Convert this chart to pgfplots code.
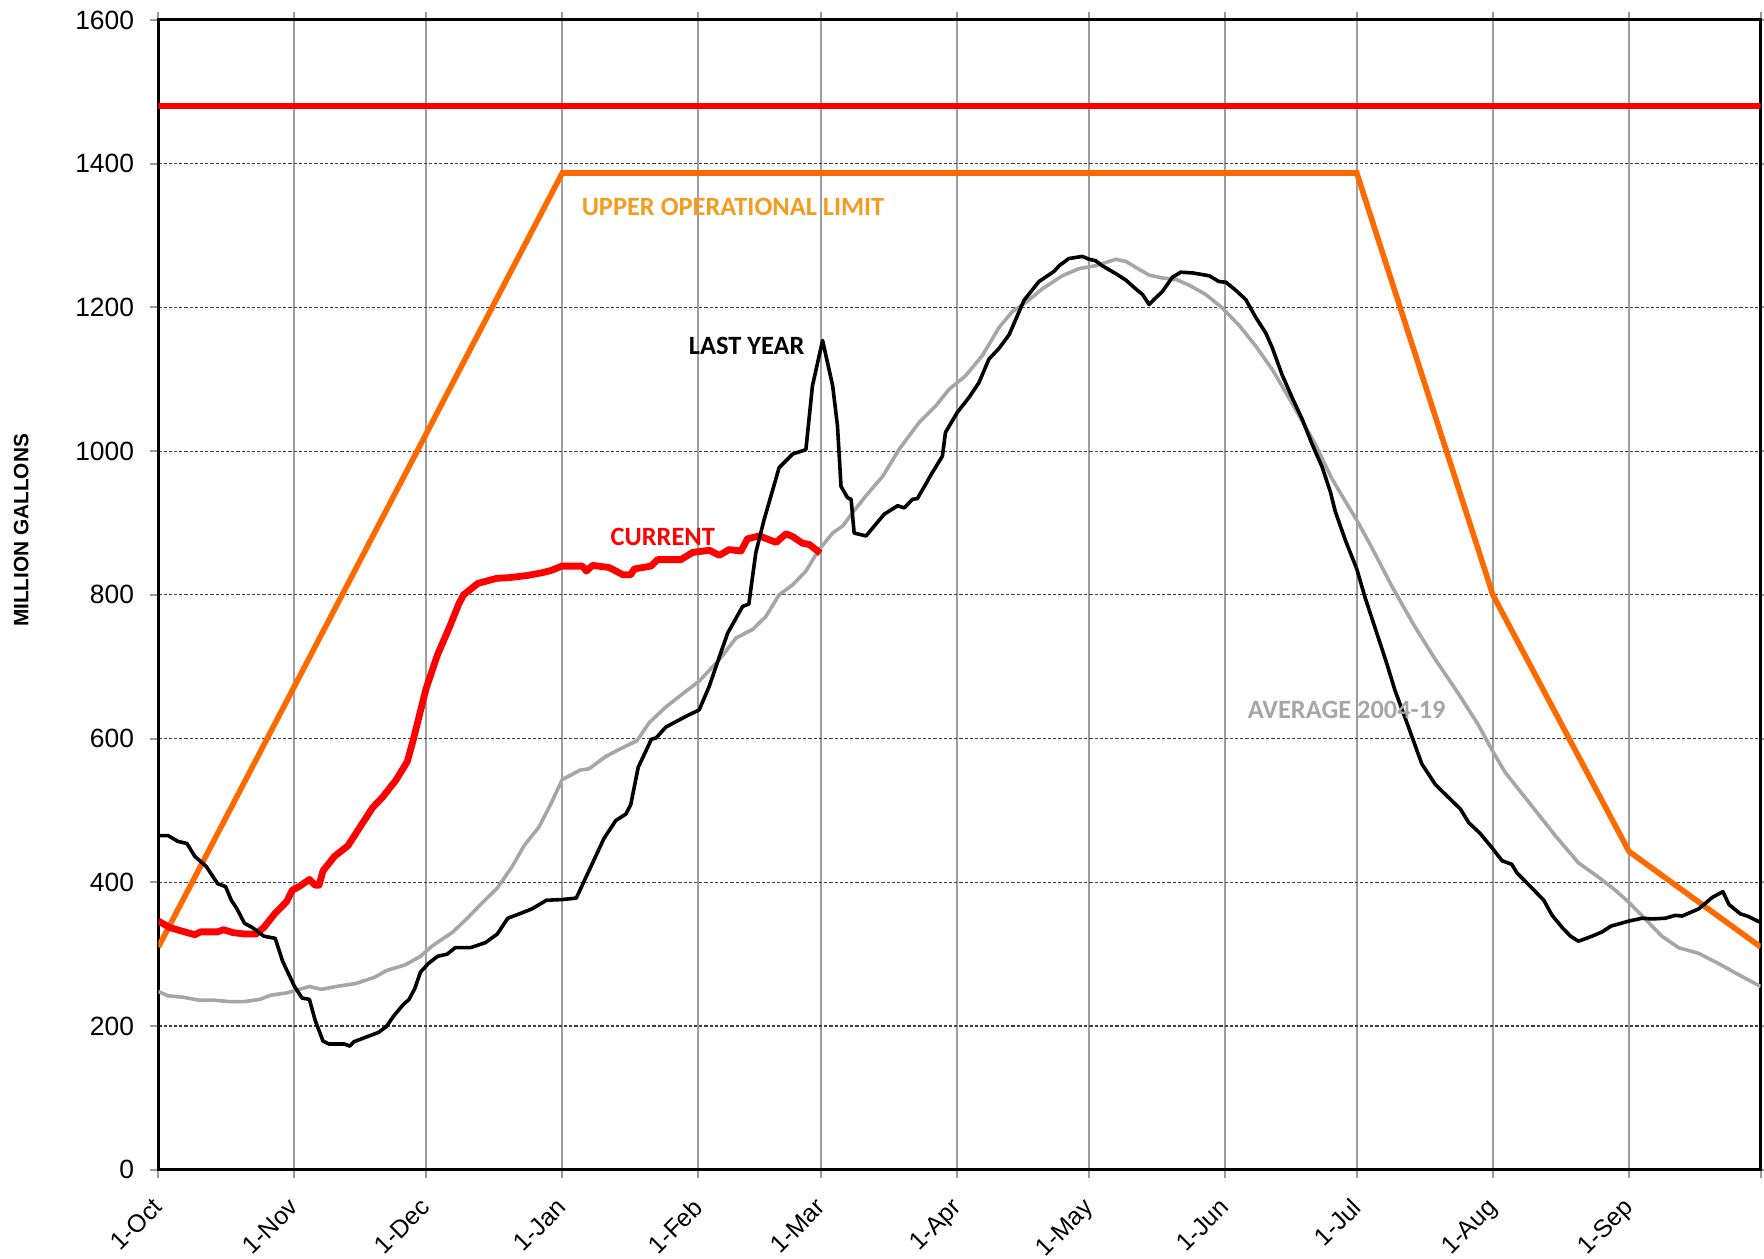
\documentclass[border=0pt]{standalone}
\usepackage{fontspec}
\setmainfont{Liberation Sans}
\newfontfamily\carlito{Carlito}
\usepackage{pgfplots}
\pgfplotsset{compat=1.18}
\definecolor{limred}{HTML}{FF0000}
\definecolor{oporange}{HTML}{FF6A00}
\definecolor{optext}{HTML}{F39C1F}
\definecolor{avggray}{HTML}{A6A6A6}

\begin{document}
\begin{tikzpicture}
\begin{axis}[
 width=400.5pt, height=287.4pt, scale only axis,
 clip mode=individual,
 xmin=0, xmax=365, ymin=0, ymax=1600,
 xtick={0,31,61,92,123,151,182,212,243,273,304,335,365},
 xticklabels={1-Oct,1-Nov,1-Dec,1-Jan,1-Feb,1-Mar,1-Apr,1-May,1-Jun,1-Jul,1-Aug,1-Sep,{}},
 ytick={0,200,...,1600},
 tick align=outside, major tick length=2pt,
 tick style={color=black!40, line width=0.5pt},
 xmajorgrids, ymajorgrids,
 x grid style={color=black!38, line width=0.5pt},
 y grid style={color=black!75, line width=0.3pt, dash pattern=on 0.8pt off 0.5pt},
 axis line style={line width=0.75pt, black},
 tick label style={font=\fontsize{6.6}{8}\selectfont},
 /pgf/number format/assume math mode=true,
 /pgf/number format/set thousands separator={},
 xticklabel style={font=\fontsize{6.2}{7.5}\selectfont, xshift=-1.7pt, yshift=-4.5pt, rotate=45, anchor=north east, inner sep=0pt},
 yticklabel style={inner sep=0pt, xshift=-3.9pt},
]
% max limit
\addplot[limred, line width=1.4pt] coordinates {(0,1480) (365,1480)};
% upper operational limit
\addplot[oporange, line width=1.4pt] coordinates {(0,310) (92,1387) (273,1387) (304,800) (335,443) (365,310)};
% average 2004-19
\addplot[avggray, line width=0.9pt] coordinates {
(0,248) (2.2,242) (5.7,240) (9.2,236) (12.6,236) (16.1,234) (19.6,234) (23.1,237) (25.7,243) (29.2,246)
(32.7,252) (34.4,255) (37.1,251) (40.5,255) (44.9,259) (49.3,268) (51.9,277) (56.2,285) (59.7,297) (62.3,311)
(67.1,331) (70.2,349) (73.7,371) (77.2,392) (80.6,422) (83.3,451) (86.7,477) (89.4,509) (92,543) (93.9,549)
(96,556) (98.1,558) (101.9,575) (105,585) (109,597) (111.8,622) (115.6,644) (117.9,655) (120,665) (123.2,680)
(127.8,710) (131.6,740) (135.4,752) (138.4,770) (141.4,800) (144.5,814) (147.5,833) (150.5,863) (153.6,886) (155.9,896)
(158.1,914) (161.2,938) (165,965) (168.8,1003) (173.3,1040) (177.1,1063) (180.1,1086) (183.9,1105) (187.7,1133) (191.5,1172)
(194.5,1194) (197.6,1207) (201.4,1226) (205.9,1244) (209.7,1254) (213.5,1258) (218.1,1267) (220.4,1264) (223.4,1253) (225.7,1245)
(228.7,1241) (231.8,1239) (234.8,1231) (238.6,1218) (242.4,1199) (246.2,1175) (250,1146) (253.7,1114) (256.8,1082) (259.8,1050)
(263.5,1010) (267.3,962) (270.4,930) (273,904) (276.4,866) (280.9,813) (286.2,756) (290.8,711) (296.1,663) (300.6,620)
(304,582) (306.8,553) (312.9,506) (318.2,465) (323.5,427) (328.1,407) (331.9,389) (335,372) (338.7,349) (342.5,325)
(346.3,309) (350.9,301) (355.4,287) (359.2,274) (365,255)};
% current
\addplot[limred, line width=1.7pt, line join=round] coordinates {
(0,346) (2.6,337) (4.8,333) (8.3,327) (9.6,331) (13.5,331) (14.8,334) (17,330) (19.6,328) (22.2,328)
(24,337) (26.6,357) (29.2,373) (30.5,389) (32.3,395) (34.4,404) (35.7,396) (36.6,396) (37.5,416) (40.1,436)
(43.2,451) (45.3,471) (48.8,504) (51,518) (54.1,542) (56.7,568) (58,597) (61,670) (63.6,717) (66.3,755)
(68.4,787) (69.5,800) (72.8,816) (77.1,823) (80,824) (84.1,827) (87.6,831) (89.5,834) (91.9,840) (96.6,840)
(97.5,833) (98.9,841) (102.7,838) (105.8,828) (107.6,828) (108.4,836) (112.2,840) (113.7,849) (119,849) (121.7,859)
(125.5,862) (127.8,855) (130,863) (132.7,861) (134.2,878) (136.9,882) (140.7,873) (143,885) (144.5,881) (146.7,872)
(148.3,870) (150.8,858)};
% last year
\addplot[black, line width=0.9pt, line join=round] coordinates {
(0,465) (2.2,465) (4.4,457) (6.5,454) (8.3,436) (10.9,422) (13.5,398) (15.3,394) (16.6,375) (17.9,363)
(19.6,343) (21.4,337) (24,325) (26.6,322) (28.3,290) (31,255) (32.7,239) (34.4,237) (35.7,208) (37.5,179)
(38.8,175) (42.3,175) (43.6,172) (44.5,178) (47.5,185) (50.1,191) (51.9,199) (53.6,214) (55.8,230) (57.1,237)
(58.4,252) (59.7,275) (61.5,287) (63.6,297) (65.8,300) (67.6,309) (71.1,309) (74.5,316) (77.2,328) (79.6,350)
(82.2,356) (85.1,363) (88.4,375) (92,376) (95.2,378) (97.7,411) (101.5,461) (104.2,486) (106.5,495) (107.6,508)
(109.3,560) (112.3,599) (113.4,601) (115.6,616) (120.2,631) (123.2,640) (125.5,673) (127.8,714) (129.7,747) (133.1,784)
(134.5,787) (136.1,859) (138,905) (141.4,977) (144.5,996) (147.5,1002) (149,1091) (151.3,1154) (153.6,1091) (154.7,1035)
(155.5,951) (157,935) (157.8,933) (158.5,886) (161.2,882) (165.3,912) (168.4,924) (169.9,921) (171.8,933) (172.9,934)
(176.3,970) (178.6,993) (179.3,1026) (182,1054) (184.7,1075) (186.9,1095) (189.2,1128) (191.5,1143) (193.8,1162) (197.2,1210)
(200.6,1236) (204,1250) (205.2,1258) (207.4,1268) (210.5,1271) (212,1267) (213.5,1265) (215,1258) (218.1,1247) (220.4,1238)
(222.6,1226) (224.2,1218) (225.7,1204) (226.8,1211) (228.7,1222) (231,1242) (232.9,1249) (235.6,1248) (239.4,1244) (241.6,1236)
(243.2,1235) (245.4,1224) (247.7,1211) (250,1186) (252.3,1164) (253.8,1143) (256,1106) (258.3,1074) (260.6,1044) (262.8,1010)
(265.1,978) (267,943) (268.1,916) (270.4,876) (273,836) (274.9,796) (277.6,746) (279.8,705) (281.7,667) (284,629)
(285.9,597) (287.8,565) (290.9,536) (293.9,518) (296.6,502) (298.5,483) (301.1,468) (303.8,448) (306.1,430) (308.3,425)
(309.5,413) (312.9,392) (315.6,375) (317.5,354) (319.8,337) (321.7,325) (323.5,318) (326.6,325) (328.9,331) (330.9,339)
(335,346) (338,350) (340.3,349) (343.3,350) (345.6,354) (347.1,353) (350.9,363) (354,379) (356.4,387) (357.8,369)
(360.4,356) (362,353) (365,344)};
\node[font=\carlito\bfseries\fontsize{6.6}{8}\selectfont, text=optext] at (axis cs:130.9,1340) {UPPER OPERATIONAL LIMIT};
\node[font=\carlito\bfseries\fontsize{6.6}{8}\selectfont, text=black] at (axis cs:134,1146) {LAST YEAR};
\node[font=\carlito\bfseries\fontsize{6.6}{8}\selectfont, text=limred] at (axis cs:114.9,881) {CURRENT};
\node[font=\carlito\bfseries\fontsize{6.6}{8}\selectfont, text=avggray] at (axis cs:270.7,640) {AVERAGE 2004-19};
\end{axis}
\node[rotate=90, font=\bfseries\fontsize{5.2}{6}\selectfont] at ([xshift=-34.3pt,yshift=0.056*287.4pt]current axis.west) {MILLION GALLONS};
\pgfresetboundingbox
\path[use as bounding box] ([xshift=-39.6pt,yshift=-22.25pt]current axis.south west) rectangle ([xshift=0.85pt,yshift=5pt]current axis.north east);
\end{tikzpicture}
\end{document}
